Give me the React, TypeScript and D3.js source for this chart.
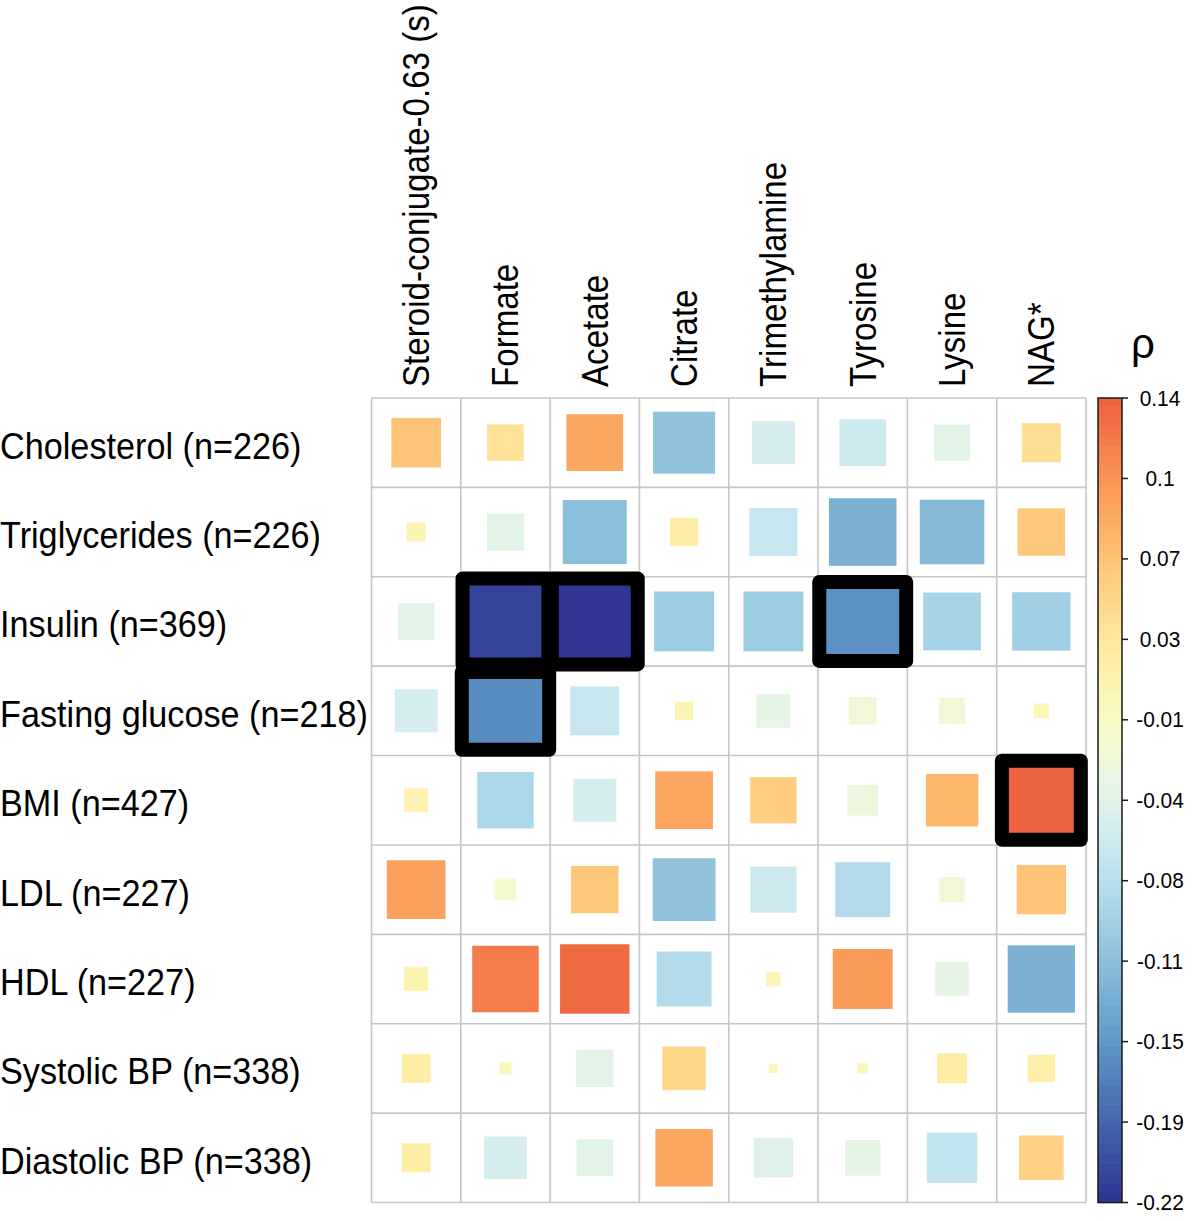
import { useEffect, useRef } from "react";
import * as d3 from "d3";

// ── data ─────────────────────────────────────────────
const metabolites = [
  "Steroid-conjugate-0.63 (s)",
  "Formate",
  "Acetate",
  "Citrate",
  "Trimethylamine",
  "Tyrosine",
  "Lysine",
  "NAG*",
];

const traits = [
  "Cholesterol (n=226)",
  "Triglycerides (n=226)",
  "Insulin (n=369)",
  "Fasting glucose (n=218)",
  "BMI (n=427)",
  "LDL (n=227)",
  "HDL (n=227)",
  "Systolic BP (n=338)",
  "Diastolic BP (n=338)",
];

// spearman rho, one row per trait, columns follow metabolites
const rho = [
  [0.068, 0.037, 0.089, -0.106, -0.051, -0.06, -0.036, 0.042],
  [0.01, -0.038, -0.113, 0.022, -0.064, -0.126, -0.115, 0.062],
  [-0.037, -0.211, -0.22, -0.099, -0.099, -0.15, -0.092, -0.094],
  [-0.051, -0.158, -0.066, 0.009, -0.032, -0.021, -0.019, 0.006],
  [0.016, -0.088, -0.051, 0.092, 0.059, -0.026, 0.076, 0.14],
  [0.095, -0.013, 0.062, -0.109, -0.059, -0.083, -0.018, 0.067],
  [0.016, 0.122, 0.133, -0.083, 0.006, 0.099, -0.031, -0.125],
  [0.023, 0.004, -0.038, 0.052, 0.0025, 0.003, 0.025, 0.021],
  [0.023, -0.05, -0.037, 0.091, -0.043, -0.035, -0.07, 0.055],
];

// cells boxed in black
const significant: [string, string][] = [
  ["Insulin (n=369)", "Formate"],
  ["Insulin (n=369)", "Acetate"],
  ["Insulin (n=369)", "Tyrosine"],
  ["Fasting glucose (n=218)", "Formate"],
  ["BMI (n=427)", "NAG*"],
];

const legendTicks = ["0.14", "0.1", "0.07", "0.03", "-0.01", "-0.04", "-0.08", "-0.11", "-0.15", "-0.19", "-0.22"];
const RHO_MIN = -0.22;
const RHO_MAX = 0.14;

// ── styles ───────────────────────────────────────────
const RDYLBU = ["#313695", "#4575b4", "#74add1", "#abd9e9", "#e0f3f8", "#ffffbf", "#fee090", "#fdae61", "#f46d43", "#d73027", "#a50026"];
// frame width/height as a share of the cell, same order as `significant`
const FRAME_SHAPE = [[0.962, 0.962], [0.962, 0.962], [0.973, 0.884], [0.979, 0.872], [0.884, 0.884]];
const FONT = "'Liberation Sans', Arial, Helvetica, sans-serif";

export default function App() {
  const svgRef = useRef<SVGSVGElement>(null);

  useEffect(() => {
    if (!svgRef.current) return;
    const svg = d3.select(svgRef.current);
    svg.selectAll("*").remove();

    const LEFT = 371.5, RIGHT = 1086, TOP = 398, BOTTOM = 1202.5;

    const x = d3.scaleBand().domain(metabolites).range([LEFT, RIGHT]);
    const y = d3.scaleBand().domain(traits).range([TOP, BOTTOM]);
    const cell = x.bandwidth();
    const side = d3.scaleSqrt().domain([0, Math.max(-RHO_MIN, RHO_MAX)]).range([0, cell]).clamp(true);

    // palette over scaled rho in [-1, 1], cut into 100 bins like corrplot
    const NBIN = 100;
    const ramp = d3.interpolateRgbBasis(RDYLBU);
    const zoom = 1 / Math.max(-RHO_MIN, RHO_MAX);
    const binOf = (v: number) => Math.max(0, Math.min(NBIN - 1, Math.floor(((v * zoom + 1) / 2) * NBIN)));
    const binColor = (i: number) => ramp(i / (NBIN - 1));

    // ── grid ─────────────────────────────────────────
    const grid = svg.append("g").attr("stroke", "#c6c6c6").attr("stroke-width", 1.6);
    [...metabolites.map(m => x(m)!), RIGHT].forEach(gx => {
      grid.append("line").attr("x1", gx).attr("x2", gx).attr("y1", TOP).attr("y2", BOTTOM);
    });
    [...traits.map(t => y(t)!), BOTTOM].forEach(gy => {
      grid.append("line").attr("x1", LEFT).attr("x2", RIGHT).attr("y1", gy).attr("y2", gy);
    });

    // ── squares ──────────────────────────────────────
    const cells = traits.flatMap((t, r) => metabolites.map((m, c) => ({ t, m, v: rho[r][c] })));
    svg.append("g").selectAll("rect").data(cells).join("rect")
      .attr("x", d => x(d.m)! + cell / 2 - side(Math.abs(d.v)) / 2)
      .attr("y", d => y(d.t)! + cell / 2 - side(Math.abs(d.v)) / 2)
      .attr("width", d => side(Math.abs(d.v)))
      .attr("height", d => side(Math.abs(d.v)))
      .attr("fill", d => binColor(binOf(d.v)));

    // ── significance frames ──────────────────────────
    significant.forEach(([t, m], i) => {
      const [fw, fh] = FRAME_SHAPE[i];
      const cx = x(m)! + cell / 2, cy = y(t)! + cell / 2;
      svg.append("rect")
        .attr("x", cx - (fw * cell) / 2).attr("y", cy - (fh * cell) / 2)
        .attr("width", fw * cell).attr("height", fh * cell)
        .attr("fill", "none")
        .attr("stroke", "#000")
        .attr("stroke-width", 14)
        .attr("stroke-linejoin", "round");
    });

    // ── labels ───────────────────────────────────────
    svg.append("g").selectAll("text").data(traits).join("text")
      .attr("transform", d => `translate(0,${y(d)! + cell / 2 + 16}) scale(0.925,1)`)
      .attr("font-size", 37)
      .attr("fill", "#000")
      .style("font-family", FONT)
      .text(d => d);

    svg.append("g").selectAll("text").data(metabolites).join("text")
      .attr("transform", d => `translate(${x(d)! + cell / 2 + 13},387) rotate(-90) scale(0.895,1)`)
      .attr("font-size", 37)
      .attr("fill", "#000")
      .style("font-family", FONT)
      .text(d => d);

    // ── colour legend ────────────────────────────────
    const BX0 = 1098, BX1 = 1122;
    const yl = d3.scaleLinear().domain([RHO_MAX, RHO_MIN]).range([TOP, BOTTOM]);
    const bar = svg.append("g");
    d3.range(NBIN).forEach(i => {
      const lo = Math.max((-1 + (2 * i) / NBIN) / zoom, RHO_MIN);
      const hi = Math.min((-1 + (2 * (i + 1)) / NBIN) / zoom, RHO_MAX);
      if (hi <= lo) return;
      bar.append("rect")
        .attr("x", BX0).attr("width", BX1 - BX0)
        .attr("y", yl(hi)).attr("height", yl(lo) - yl(hi) + 0.6)
        .attr("fill", binColor(i));
    });
    bar.append("rect")
      .attr("x", BX0).attr("y", TOP).attr("width", BX1 - BX0).attr("height", BOTTOM - TOP)
      .attr("fill", "none").attr("stroke", "#1a1a1a").attr("stroke-width", 1.5);

    const yt = d3.scalePoint().domain(legendTicks).range([TOP, BOTTOM]);
    const ticks = svg.append("g");
    legendTicks.forEach(lab => {
      ticks.append("line")
        .attr("x1", BX1).attr("x2", BX1 + 6)
        .attr("y1", yt(lab)!).attr("y2", yt(lab)!)
        .attr("stroke", "#1a1a1a").attr("stroke-width", 1.5);
      ticks.append("text")
        .attr("transform", `translate(1160,${yt(lab)! + 7.5}) scale(0.95,1)`)
        .attr("text-anchor", "middle")
        .attr("font-size", 22)
        .style("font-family", FONT)
        .text(lab);
    });

    svg.append("text")
      .attr("x", 1143).attr("y", 358)
      .attr("text-anchor", "middle")
      .attr("font-size", 42)
      .style("font-family", FONT)
      .text("ρ");
  }, []);

  return (
    <svg
      ref={svgRef}
      width={1200}
      height={1221}
      style={{ position: "absolute", left: 0, top: 0, background: "#fff" }}
    />
  );
}
